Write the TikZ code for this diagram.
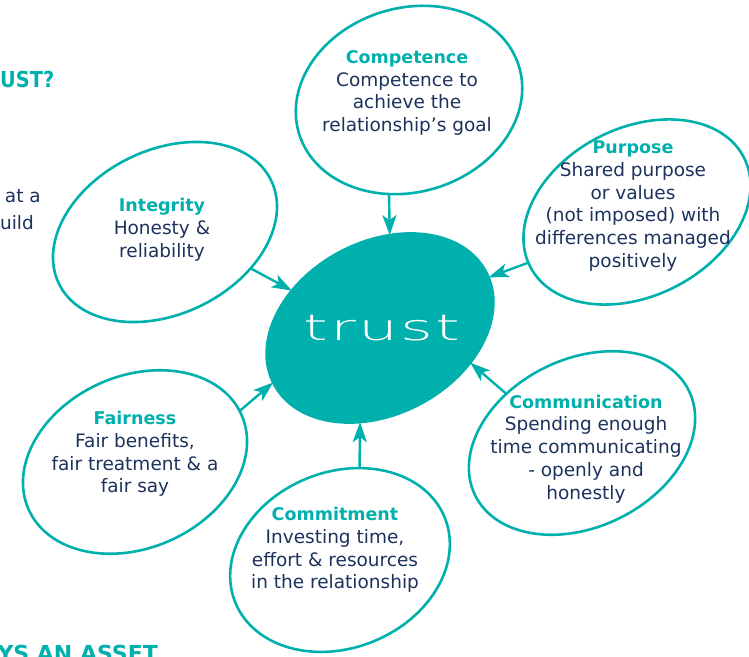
\documentclass[tikz,border=0pt]{standalone}
\usepackage{fontspec}
\setmainfont{DejaVu Sans}
\newfontfamily\thinface{DejaVu Sans ExtraLight}
\usetikzlibrary{shapes.geometric,arrows.meta}
\definecolor{trustteal}{HTML}{00B0AC}
\definecolor{inkblue}{HTML}{1C325C}
\begin{document}
\begin{tikzpicture}[x=1pt,y=1pt,
  bubble/.style={ellipse, draw=trustteal, line width=2.6pt, inner sep=0pt, outer sep=0pt},
  caption/.style={align=center, text=inkblue, inner sep=0pt,
    font=\fontsize{18.5}{22.8}\selectfont},
  link/.style={draw=trustteal, line width=2.4pt,
    -{Stealth[length=20pt,width=14pt,inset=5pt]}},
  heading/.style={text=trustteal, inner sep=0pt,
    font=\fontsize{22}{22}\selectfont\bfseries},
]
\newcommand{\hd}[1]{{\color{trustteal}\fontsize{17.5}{22.8}\selectfont\bfseries #1}}
\useasboundingbox (0,0) rectangle (749,656);
\clip (0,0) rectangle (749,656);

% central ellipse
\node[bubble, fill=trustteal, minimum width=240pt, minimum height=172pt, rotate=28]
  (trust) at (380,328) {};

% surrounding ellipses
\node[bubble, minimum width=230pt, minimum height=184pt, rotate=17] (comp) at (409,556) {};
\node[bubble, minimum width=240pt, minimum height=168pt, rotate=27] (purp) at (637,444) {};
\node[bubble, minimum width=236pt, minimum height=164pt, rotate=26] (integ) at (165,424) {};
\node[bubble, minimum width=233pt, minimum height=172pt, rotate=24] (fair) at (135,194) {};
\node[bubble, minimum width=226pt, minimum height=176pt, rotate=22] (commit) at (340,96) {};
\node[bubble, minimum width=238pt, minimum height=168pt, rotate=26] (commu) at (582,213) {};

% arrows into the centre
\draw[link] (comp.-119.5) -- (trust.56);
\draw[link] (purp.178.1) -- (trust.-3.1);
\draw[link] (integ.-49.5) -- (trust.129.3);
\draw[link] (fair.2.8) -- (trust.179.6);
\draw[link] (commit.56.9) -- (trust.-130.9);
\draw[link] (commu.121) -- (trust.-49.2);

% centre word
\node[text=white, inner sep=0pt, font=\thinface\fontsize{36}{36}\selectfont] (trustword) at (382,328)
  {\scalebox{1.75}[1]{t\kern1.2pt r\kern1.2pt u\kern1.2pt s\kern1.2pt t}};

% captions
\node[caption] (tcomp) at (407,563)
  {\hd{Competence}\\Competence to\\achieve the\\relationship’s goal};
\node[caption] (tpurp) at (633,450)
  {\hd{Purpose}\\Shared purpose\\or values\\(not imposed) with\\differences managed\\positively};
\node[caption] (tinteg) at (162,426)
  {\hd{Integrity}\\Honesty \&\\reliability};
\node[caption] (tfair) at (135,202)
  {\hd{Fairness}\\Fair benefits,\\fair treatment \& a\\fair say};
\node[caption] (tcommit) at (335,106)
  {\hd{Commitment}\\Investing time,\\effort \& resources\\in the relationship};
\node[caption] (tcommu) at (586,207)
  {\hd{Communication}\\Spending enough\\time communicating\\- openly and\\honestly};

% text running in from the left edge
\node[heading, anchor=west] (qhead) at (0,577) {\scalebox{0.88}[1]{UST?}};
\node[caption, anchor=base east] (frag1) at (41,453) {at a};
\node[caption, anchor=base east] (frag2) at (34,426) {uild};
\node[heading, anchor=base east] (assethead) at (158,-5) {YS AN ASSET};
\end{tikzpicture}
\end{document}
